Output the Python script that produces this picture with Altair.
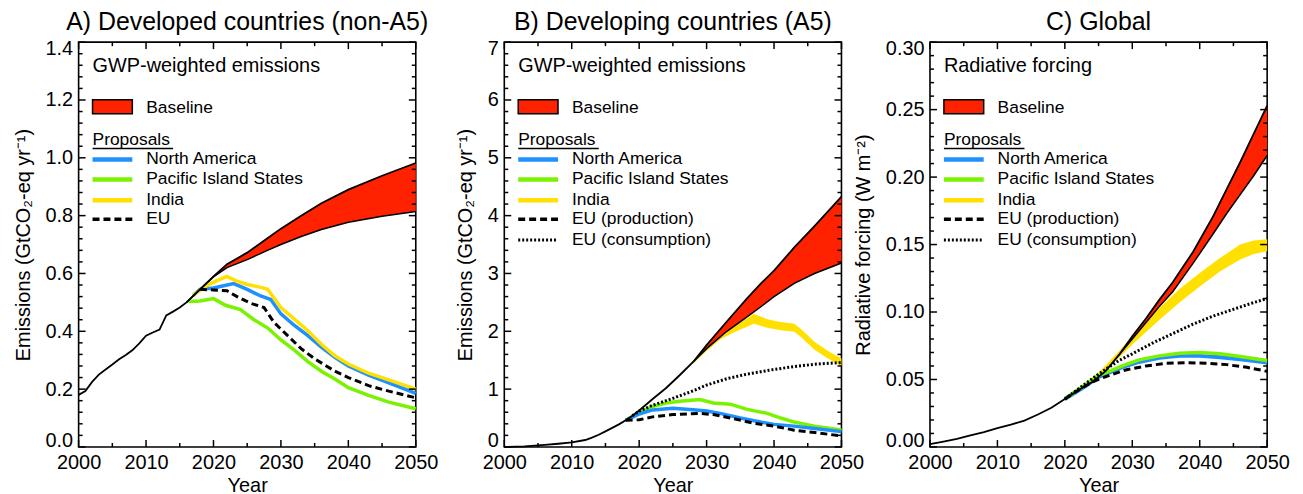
import altair as alt
import pandas as pd

FONT = "Liberation Sans"
W, H = 339, 407
RED = "#FF2200"
BLUE = "#1E90FF"
GREEN = "#7AF200"
YELLOW = "#FFE000"

# ---------------- Panel A: developed countries ----------------
A_hist_year = [2000, 2001, 2002, 2003, 2004, 2005, 2006, 2007, 2008, 2009, 2010, 2011, 2012, 2013, 2014, 2015, 2016]
A_hist_val = [0.180, 0.193, 0.225, 0.250, 0.268, 0.285, 0.303, 0.318, 0.335, 0.358, 0.385, 0.396, 0.406, 0.455, 0.468, 0.482, 0.500]
A_base_year = [2016, 2018, 2020, 2022, 2025, 2028, 2030, 2033, 2036, 2040, 2045, 2050]
A_base_hi = [0.500, 0.545, 0.590, 0.632, 0.672, 0.722, 0.755, 0.800, 0.843, 0.890, 0.938, 0.982]
A_base_lo = [0.500, 0.545, 0.588, 0.620, 0.648, 0.680, 0.700, 0.728, 0.752, 0.777, 0.798, 0.814]
A_na_year = [2017, 2018, 2020, 2021, 2023, 2025, 2027, 2028.5, 2030, 2032, 2034, 2036, 2038, 2040, 2043, 2046, 2050]
A_na_val = [0.525, 0.545, 0.550, 0.555, 0.565, 0.545, 0.522, 0.510, 0.460, 0.420, 0.385, 0.345, 0.310, 0.280, 0.248, 0.222, 0.185]
A_pis_year = [2016.3, 2018, 2020, 2021.8, 2024, 2026, 2028, 2030, 2032, 2034, 2036, 2038, 2040, 2043, 2046, 2050]
A_pis_val = [0.503, 0.505, 0.513, 0.490, 0.475, 0.440, 0.412, 0.370, 0.335, 0.295, 0.262, 0.235, 0.205, 0.178, 0.155, 0.132]
A_ind_year = [2017, 2019, 2020.5, 2022, 2023.5, 2025, 2027, 2028, 2030, 2032, 2034, 2036, 2038, 2040, 2043, 2046, 2050]
A_ind_val = [0.525, 0.558, 0.575, 0.590, 0.573, 0.562, 0.552, 0.546, 0.482, 0.442, 0.402, 0.355, 0.315, 0.287, 0.255, 0.232, 0.200]
A_eu_year = [2018, 2020, 2022, 2023.5, 2025.5, 2027.5, 2029, 2031, 2033, 2035, 2038, 2040, 2043, 2046, 2050]
A_eu_val = [0.545, 0.543, 0.540, 0.520, 0.497, 0.482, 0.430, 0.385, 0.340, 0.305, 0.262, 0.240, 0.212, 0.193, 0.170]

# ---------------- Panel B: developing countries ----------------
B_hist_year = [2000, 2003, 2006, 2008, 2010, 2012, 2013, 2014, 2015, 2016, 2017, 2018, 2019, 2020, 2022, 2024, 2026, 2028]
B_hist_val = [0.0, 0.01, 0.035, 0.055, 0.08, 0.12, 0.16, 0.21, 0.27, 0.33, 0.39, 0.46, 0.54, 0.63, 0.83, 1.02, 1.24, 1.47]
B_base_year = [2028, 2030, 2033, 2036, 2038, 2040, 2043, 2046, 2050]
B_base_hi = [1.47, 1.76, 2.17, 2.57, 2.82, 3.05, 3.45, 3.82, 4.33]
B_base_lo = [1.47, 1.70, 2.00, 2.25, 2.42, 2.60, 2.83, 3.00, 3.18]
B_na_year = [2018, 2020, 2022, 2025, 2028, 2030, 2032, 2035, 2038, 2040, 2043, 2046, 2050]
B_na_val = [0.46, 0.57, 0.64, 0.67, 0.645, 0.62, 0.58, 0.50, 0.43, 0.39, 0.36, 0.32, 0.265]
B_pis_year = [2018, 2020, 2022, 2024, 2026, 2029, 2031, 2033.5, 2036, 2039, 2041, 2043, 2046, 2050]
B_pis_val = [0.46, 0.60, 0.70, 0.76, 0.79, 0.82, 0.76, 0.74, 0.65, 0.58, 0.50, 0.43, 0.36, 0.295]
B_ind_year = [2028, 2030, 2032, 2034, 2036, 2037, 2039, 2041, 2043, 2044, 2046, 2048, 2050]
B_ind_lo = [1.44, 1.66, 1.86, 1.98, 2.08, 2.13, 2.06, 2.02, 1.99, 1.90, 1.68, 1.53, 1.40]
B_ind_hi = [1.48, 1.72, 1.94, 2.08, 2.22, 2.30, 2.21, 2.16, 2.13, 2.04, 1.82, 1.66, 1.53]
B_eup_year = [2018, 2020, 2022, 2025, 2029, 2031, 2034, 2037, 2040, 2043, 2046, 2050]
B_eup_val = [0.46, 0.47, 0.52, 0.56, 0.58, 0.56, 0.49, 0.41, 0.36, 0.29, 0.25, 0.19]
B_euc_year = [2019, 2020, 2022, 2025, 2028, 2030, 2033, 2036, 2040, 2043, 2046, 2050]
B_euc_val = [0.54, 0.62, 0.72, 0.84, 0.97, 1.07, 1.18, 1.26, 1.34, 1.39, 1.43, 1.46]

# ---------------- Panel C: global radiative forcing ----------------
C_hist_year = [2000, 2002, 2004, 2006, 2008, 2010, 2012, 2014, 2016, 2018, 2020, 2022, 2024, 2026, 2028]
C_hist_val = [0.002, 0.004, 0.006, 0.0085, 0.011, 0.014, 0.0165, 0.0195, 0.024, 0.029, 0.0355, 0.042, 0.048, 0.056, 0.068]
C_base_year = [2028, 2030, 2032, 2034, 2036, 2039, 2042, 2044, 2046, 2048, 2050]
C_base_hi = [0.068, 0.082, 0.095, 0.109, 0.122, 0.1445, 0.171, 0.191, 0.211, 0.232, 0.253]
C_base_lo = [0.068, 0.080, 0.092, 0.104, 0.115, 0.136, 0.158, 0.173, 0.187, 0.201, 0.216]
C_ind_year = [2020, 2023, 2025, 2028, 2030, 2032, 2034, 2037, 2040, 2043, 2046, 2048, 2050]
C_ind_lo = [0.0355, 0.046, 0.052, 0.066, 0.076, 0.085, 0.094, 0.107, 0.119, 0.130, 0.139, 0.143, 0.145]
C_ind_hi = [0.0360, 0.047, 0.055, 0.071, 0.082, 0.093, 0.103, 0.117, 0.129, 0.140, 0.150, 0.153, 0.154]
C_na_year = [2020, 2023, 2025, 2027, 2029, 2031, 2034, 2037, 2040, 2043, 2046, 2050]
C_na_val = [0.0355, 0.045, 0.052, 0.056, 0.060, 0.063, 0.066, 0.0675, 0.0675, 0.0665, 0.065, 0.0625]
C_pis_year = [2020, 2023, 2025, 2027, 2029, 2031, 2034, 2037, 2040, 2043, 2046, 2050]
C_pis_val = [0.0355, 0.046, 0.053, 0.057, 0.061, 0.0645, 0.0675, 0.0695, 0.070, 0.069, 0.067, 0.064]
C_eup_year = [2020, 2022, 2024, 2026, 2029, 2032, 2035, 2038, 2041, 2044, 2047, 2050]
C_eup_val = [0.0355, 0.042, 0.048, 0.052, 0.057, 0.060, 0.062, 0.0625, 0.062, 0.061, 0.059, 0.056]
C_euc_year = [2020, 2022, 2025, 2028, 2030, 2033, 2036, 2039, 2042, 2045, 2048, 2050]
C_euc_val = [0.0355, 0.043, 0.054, 0.064, 0.069, 0.077, 0.084, 0.091, 0.097, 0.102, 0.107, 0.110]

# ---------------- axis ticks ----------------
X_MAJOR = [2000, 2010, 2020, 2030, 2040, 2050]
X_MINOR = [2005, 2015, 2025, 2035, 2045]
A_Y_MAJOR = [0.0, 0.2, 0.4, 0.6, 0.8, 1.0, 1.2, 1.4]
B_Y_MAJOR = [0, 1, 2, 3, 4, 5, 6, 7]
C_Y_MAJOR = [0.0, 0.05, 0.10, 0.15, 0.20, 0.25, 0.30]


def minor_ticks(majors, n):
    out = []
    for a, b in zip(majors[:-1], majors[1:]):
        step = (b - a) / (n + 1)
        out += [round(a + step * k, 5) for k in range(1, n + 1)]
    return out


def one():
    return pd.DataFrame({"k": [0]})


def panel(title, ytitle, ymax, ymajor, yfmt, hist, base, lines, band, legend_items, header):
    xs = alt.Scale(domain=[2000, 2050], nice=False, zero=False)
    ys = alt.Scale(domain=[0, ymax], nice=False, zero=False)
    xaxis = alt.Axis(title="Year", values=X_MAJOR, format="d", ticks=False, domain=False,
                     grid=False, labelPadding=6, titlePadding=3, labelFlush=False)
    yaxis = alt.Axis(title=ytitle, values=ymajor, format=yfmt, ticks=False, domain=False,
                     grid=False, labelPadding=6, titlePadding=12, labelFlush=True,
                     labelFlushOffset=4)
    X = alt.X("x:Q", scale=xs, axis=xaxis)
    Y = alt.Y("y:Q", scale=ys, axis=yaxis)
    layers = []

    # India band (B, C)
    if band is not None:
        by, blo, bhi = band
        d = pd.DataFrame({"x": by, "y": blo, "y2": bhi})
        layers.append(alt.Chart(d).mark_area(color=YELLOW, opacity=1).encode(x=X, y=Y, y2="y2:Q"))

    for (yrs, vals, color, width, dash) in lines:
        d = pd.DataFrame({"x": yrs, "y": vals})
        kw = dict(color=color, strokeWidth=width)
        if dash:
            kw["strokeDash"] = dash
        layers.append(alt.Chart(d).mark_line(**kw).encode(x=X, y=Y))

    # baseline band
    hy, hv = hist
    by, blo, bhi = base
    d = pd.DataFrame({"x": by, "y": blo, "y2": bhi})
    layers.append(alt.Chart(d).mark_area(color=RED, opacity=1).encode(x=X, y=Y, y2="y2:Q"))
    d = pd.DataFrame({"x": hy + by[1:], "y": hv + bhi[1:]})
    layers.append(alt.Chart(d).mark_line(color="black", strokeWidth=1.8).encode(x=X, y=Y))
    d = pd.DataFrame({"x": by, "y": blo})
    layers.append(alt.Chart(d).mark_line(color="black", strokeWidth=1.5).encode(x=X, y=Y))

    # inward ticks on all four sides
    tick = dict(color="black", strokeWidth=1.5)
    for vals, L in ((X_MAJOR, 7), (X_MINOR, 4)):
        d = pd.DataFrame({"x": vals})
        layers.append(alt.Chart(d).mark_rule(**tick).encode(x=X, y=alt.value(H), y2=alt.value(H - L)))
        layers.append(alt.Chart(d).mark_rule(**tick).encode(x=X, y=alt.value(0), y2=alt.value(L)))
    for vals, L in ((ymajor, 7), (minor_ticks(ymajor, 4), 4)):
        d = pd.DataFrame({"y": vals})
        layers.append(alt.Chart(d).mark_rule(**tick).encode(y=Y, x=alt.value(0), x2=alt.value(L)))
        layers.append(alt.Chart(d).mark_rule(**tick).encode(y=Y, x=alt.value(W), x2=alt.value(W - L)))

    # in-plot legend
    txt = dict(font=FONT, color="black", align="left", baseline="middle")
    layers.append(alt.Chart(one()).mark_text(text=header, fontSize=20, **txt)
                  .encode(x=alt.value(14), y=alt.value(24)))
    layers.append(alt.Chart(one()).mark_rect(fill=RED, stroke="black", strokeWidth=1.5)
                  .encode(x=alt.value(14), x2=alt.value(54), y=alt.value(58), y2=alt.value(72)))
    layers.append(alt.Chart(one()).mark_text(text="Baseline", fontSize=17.5, **txt)
                  .encode(x=alt.value(68), y=alt.value(66)))
    layers.append(alt.Chart(one()).mark_text(text="Proposals", fontSize=17.5, **txt)
                  .encode(x=alt.value(14), y=alt.value(98)))
    layers.append(alt.Chart(one()).mark_rule(color="black", strokeWidth=1.5)
                  .encode(x=alt.value(14), x2=alt.value(95), y=alt.value(107)))
    for (label, ypos, color, width, dash) in legend_items:
        kw = dict(color=color, strokeWidth=width)
        if dash:
            kw["strokeDash"] = dash
        layers.append(alt.Chart(one()).mark_rule(**kw)
                      .encode(x=alt.value(14), x2=alt.value(54), y=alt.value(ypos)))
        layers.append(alt.Chart(one()).mark_text(text=label, fontSize=17.5, **txt)
                      .encode(x=alt.value(68), y=alt.value(ypos)))

    return alt.layer(*layers).properties(
        width=W, height=H,
        title=alt.TitleParams(text=title, font=FONT, fontSize=25, fontWeight="normal",
                              color="black", offset=3, anchor="middle"),
    )


DASH = [7, 4]
DOT = [2, 2]
LEG_A = [("North America", 118, BLUE, 4.5, None),
         ("Pacific Island States", 138, GREEN, 4.5, None),
         ("India", 159, YELLOW, 4.5, None),
         ("EU", 178, "black", 3.5, DASH)]
LEG_BC = [("North America", 118, BLUE, 4.5, None),
          ("Pacific Island States", 138, GREEN, 4.5, None),
          ("India", 159, YELLOW, 4.5, None),
          ("EU (production)", 178, "black", 3.5, DASH),
          ("EU (consumption)", 199, "black", 3.0, DOT)]

pA = panel("A) Developed countries (non-A5)", "Emissions (GtCO\u2082-eq yr\u207b\u00b9)", 1.4, A_Y_MAJOR, ".1f",
           (A_hist_year, A_hist_val), (A_base_year, A_base_lo, A_base_hi),
           [(A_pis_year, A_pis_val, GREEN, 3.5, None),
            (A_na_year, A_na_val, BLUE, 3.5, None),
            (A_ind_year, A_ind_val, YELLOW, 3.5, None),
            (A_eu_year, A_eu_val, "black", 3.0, DASH)],
           None, LEG_A, "GWP-weighted emissions")

pB = panel("B) Developing countries (A5)", "Emissions (GtCO\u2082-eq yr\u207b\u00b9)", 7, B_Y_MAJOR, "d",
           (B_hist_year, B_hist_val), (B_base_year, B_base_lo, B_base_hi),
           [(B_pis_year, B_pis_val, GREEN, 3.5, None),
            (B_na_year, B_na_val, BLUE, 3.5, None),
            (B_eup_year, B_eup_val, "black", 3.0, DASH),
            (B_euc_year, B_euc_val, "black", 3.0, DOT)],
           (B_ind_year, B_ind_lo, B_ind_hi), LEG_BC, "GWP-weighted emissions")

pC = panel("C) Global", "Radiative forcing (W m\u207b\u00b2)", 0.30, C_Y_MAJOR, ".2f",
           (C_hist_year, C_hist_val), (C_base_year, C_base_lo, C_base_hi),
           [(C_na_year, C_na_val, BLUE, 4.0, None),
            (C_pis_year, C_pis_val, GREEN, 3.5, None),
            (C_eup_year, C_eup_val, "black", 3.0, DASH),
            (C_euc_year, C_euc_val, "black", 3.0, DOT)],
           (C_ind_year, C_ind_lo, C_ind_hi), LEG_BC, "Radiative forcing")

chart = alt.hconcat(pA, pB, pC, spacing=89, bounds="flush").properties(
    padding={"left": 4, "top": 0, "right": 4, "bottom": 0}
).configure_view(
    stroke="black", strokeWidth=1.6
).configure_axis(
    labelFont=FONT, labelFontSize=20, labelColor="black",
    titleFont=FONT, titleFontSize=20, titleFontWeight="normal", titleColor="black"
)

chart.save("out.html", embed_options={"renderer": "svg", "actions": False})
